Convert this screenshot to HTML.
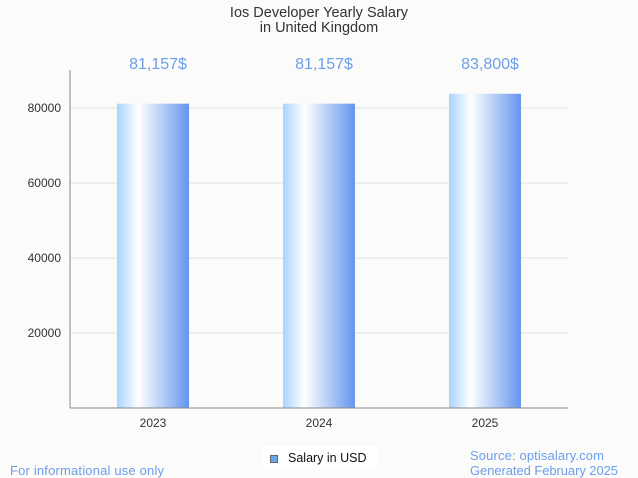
<!DOCTYPE html>
<html><head><meta charset="utf-8"><style>
body{margin:0;background:#fbfbf9;}
svg{display:block;font-family:"Liberation Sans",sans-serif;}
</style></head><body>
<svg id="chart" width="638" height="478">
<defs><linearGradient id="g" x1="0" x2="1" y1="0" y2="0">
<stop offset="0" stop-color="#a8d4ff"/><stop offset="0.3" stop-color="#ffffff"/><stop offset="1" stop-color="#6495ed"/></linearGradient></defs>
<rect width="638" height="478" fill="#fbfbf9"/>
<text x="319" y="17" text-anchor="middle" font-size="14.5" fill="#333">Ios Developer Yearly Salary</text>
<text x="319" y="32" text-anchor="middle" font-size="14.5" fill="#333">in United Kingdom</text>
<g id="grid"></g><g id="bars"></g>
<line x1="70" y1="70" x2="70" y2="408" stroke="#888"/>
<line x1="70" y1="408" x2="568" y2="408" stroke="#888"/>
<rect x="263" y="446" width="114" height="22" fill="#fff"/>
<rect x="270.5" y="455.5" width="7" height="7" fill="#6aa6ee" stroke="#666"/>
<text x="288" y="462" font-size="12.5" fill="#111">Salary in USD</text>
<text x="10" y="475" font-size="13" fill="#6d9eeb" textLength="154">For informational use only</text>
<text x="470" y="460" font-size="13" fill="#6d9eeb" textLength="134">Source: optisalary.com</text>
<text x="470" y="475" font-size="13" fill="#6d9eeb" textLength="148">Generated February 2025</text>
</svg>
<script>
const categories=["2023","2024","2025"];
const values=[81157,81157,83800];
const valueLabels=["81,157$","81,157$","83,800$"];
const ticks=[20000,40000,60000,80000];
const NS="http://www.w3.org/2000/svg";
const x0=70,x1=568,y0=408,pxPer=75/20000;
const y=v=>y0-v*pxPer;
const band=(x1-x0)/categories.length;
const xc=i=>x0+band*(i+0.5);
function mk(t,a,p){const e=document.createElementNS(NS,t);for(const k in a)e.setAttribute(k,a[k]);p.appendChild(e);return e;}
const grid=document.getElementById('grid'),bars=document.getElementById('bars');
ticks.forEach(t=>{
 const l=mk('line',{x1:x0,x2:x1,y1:y(t),y2:y(t),stroke:'#e0e0e0'},grid);
 
 
 const tx=mk('text',{x:61,y:y(t)+4,'text-anchor':'end','font-size':12,fill:'#333'},grid);
 tx.textContent=t;
 
 
});
categories.forEach((c,i)=>{
 const r=mk('rect',{x:xc(i)-36,y:y(values[i]),width:72,height:y0-y(values[i]),fill:'url(#g)'},bars);
 
 
 const v=mk('text',{x:xc(i)+5,y:69,'text-anchor':'middle','font-size':16,fill:'#6d9eeb'},bars);
 v.textContent=valueLabels[i];
 
 
 const t=mk('text',{x:xc(i),y:427,'text-anchor':'middle','font-size':12,fill:'#333'},bars);
 t.textContent=c;
 
 
});
</script>
</body></html>
